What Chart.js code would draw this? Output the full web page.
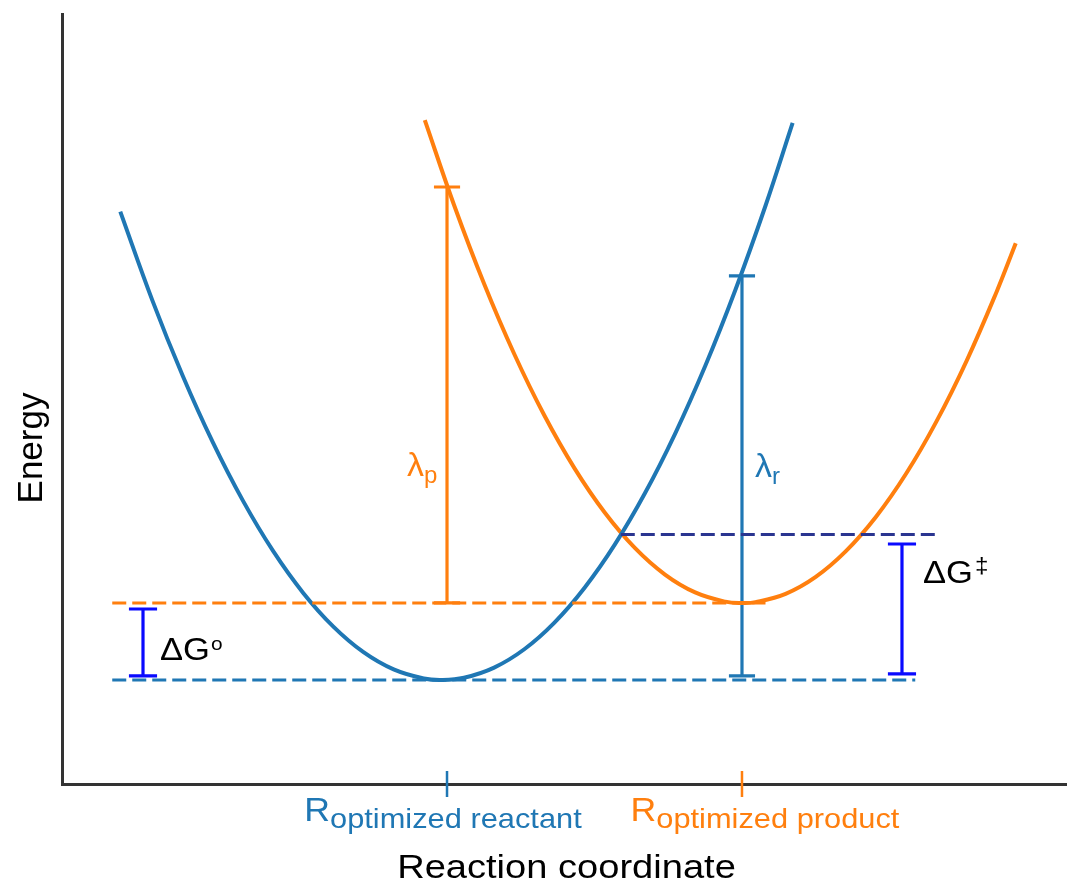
<!DOCTYPE html>
<html><head><meta charset="utf-8">
<script src="https://cdn.jsdelivr.net/npm/chart.js@4"></script>
<style>html,body{margin:0;padding:0;background:#fff;}canvas{display:block;}</style>
</head><body>
<canvas id="c" width="1067" height="881"></canvas>
<script>
// Reactant (blue) energy curve
const reactantX = [0.58, 0.9, 1.2, 1.5, 1.8, 2.1, 2.4, 2.7, 3.0, 3.3, 3.6, 3.78, 4.0, 4.3, 4.6, 4.9, 5.2, 5.5, 5.8, 6.1, 6.4, 6.7, 7.0, 7.27];
const reactantY = [7.434, 6.278, 5.305, 4.439, 3.680, 3.027, 2.482, 2.044, 1.712, 1.488, 1.370, 1.351, 1.380, 1.512, 1.750, 2.096, 2.549, 3.108, 3.775, 4.548, 5.428, 6.416, 7.510, 8.586];
// Product (orange) energy curve
const productX = [3.61, 3.9, 4.2, 4.5, 4.8, 5.1, 5.4, 5.7, 6.0, 6.3, 6.6, 6.766, 6.9, 7.2, 7.5, 7.8, 8.1, 8.4, 8.7, 9.0, 9.3, 9.49];
const productY = [8.622, 7.523, 6.496, 5.584, 4.785, 4.099, 3.526, 3.066, 2.720, 2.488, 2.368, 2.351, 2.362, 2.470, 2.690, 3.024, 3.471, 4.032, 4.706, 5.493, 6.394, 7.023];
// Horizontal reference levels
const levelNames = ['reactant minimum', 'product minimum', 'crossing'];
const levelY = [1.351, 2.351, 3.24];
const levelFrom = [0.50, 0.50, 5.56];
const levelTo = [8.49, 7.00, 8.74];
// Bracket bars
const barNames = ['λp', 'λr', 'ΔG°', 'ΔG‡'];
const barX = [3.831, 6.766, 0.806, 8.358];
const barLow = [2.351, 1.403, 1.403, 1.429];
const barHigh = [7.753, 6.60, 2.273, 3.117];
// Axis ticks
const tickPositions = [3.831, 6.766];
const tickMain = ['R', 'R'];
const tickSub = ['optimized reactant', 'optimized product'];

const BLUE = '#1f77b4', ORANGE = '#ff7f0e', NAVY = '#2a3590', PURE = '#0a0aff';
const FONT = "'Liberation Sans', Arial, Helvetica, sans-serif";

function pts(xs, ys) { return xs.map((x, i) => ({ x, y: ys[i] })); }
function level(i) { return [{ x: levelFrom[i], y: levelY[i] }, { x: levelTo[i], y: levelY[i] }]; }
function bar(i, w) {
  const x = barX[i], lo = barLow[i], hi = barHigh[i];
  return [{ x, y: lo }, { x, y: hi }, { x, y: null },
          { x: x - w, y: hi }, { x: x + w, y: hi }, { x, y: null },
          { x: x - w, y: lo }, { x: x + w, y: lo }];
}
const lineDs = (data, color, width, extra) => Object.assign({
  data, borderColor: color, backgroundColor: color, borderWidth: width,
  pointRadius: 0, showLine: true, fill: false, spanGaps: false, tension: 0
}, extra || {});

const datasets = [
  lineDs(level(0), BLUE, 3, { borderDash: [14, 6] }),
  lineDs(level(1), ORANGE, 3, { borderDash: [14, 6] }),
  lineDs(level(2), NAVY, 3, { borderDash: [14, 6] }),
  lineDs(pts(reactantX, reactantY), BLUE, 4, { tension: 0.4 }),
  lineDs(pts(productX, productY), ORANGE, 4, { tension: 0.4 }),
  lineDs(bar(0, 0.13), ORANGE, 3.2),
  lineDs(bar(1, 0.13), BLUE, 3.2),
  lineDs(bar(2, 0.14), PURE, 3.2),
  lineDs(bar(3, 0.14), PURE, 3.2),
];

function txt(ctx, s, x, y, size, color, sx) {
  ctx.save();
  ctx.font = size + 'px ' + FONT;
  ctx.fillStyle = color;
  ctx.textBaseline = 'alphabetic';
  const k = sx || 1;
  const w = ctx.measureText(s).width * k;
  ctx.translate(x, y);
  ctx.scale(k, 1);
  ctx.fillText(s, 0, 0);
  ctx.restore();
  return w;
}
function width(ctx, s, size, sx) {
  ctx.save(); ctx.font = size + 'px ' + FONT;
  const w = ctx.measureText(s).width * (sx || 1); ctx.restore(); return w;
}

const annot = {
  id: 'annot',
  afterDraw(chart) {
    const ctx = chart.ctx, xs = chart.scales.x, ca = chart.chartArea;
    const tickColors = [BLUE, ORANGE];
    const labelShift = [-4, 23];
    tickPositions.forEach((v, i) => {
      const px = xs.getPixelForValue(v);
      ctx.save();
      ctx.strokeStyle = tickColors[i]; ctx.lineWidth = 2.5;
      ctx.beginPath(); ctx.moveTo(px, ca.bottom - 13); ctx.lineTo(px, ca.bottom + 13); ctx.stroke();
      ctx.restore();
      const wm = width(ctx, tickMain[i], 33, 1.08), ws = width(ctx, tickSub[i], 28, 1.1);
      const left = px + labelShift[i] - (wm + ws) / 2;
      txt(ctx, tickMain[i], left, ca.bottom + 37, 33, tickColors[i], 1.08);
      txt(ctx, tickSub[i], left + wm, ca.bottom + 44, 28, tickColors[i], 1.1);
    });
    // axis titles
    const tw = width(ctx, 'Reaction coordinate', 34, 1.12);
    txt(ctx, 'Reaction coordinate', (ca.left + ca.right) / 2 + 2 - tw / 2, ca.bottom + 94, 34, '#000', 1.12);
    ctx.save();
    ctx.translate(ca.left - 20, (ca.top + ca.bottom) / 2 + 49);
    ctx.rotate(-Math.PI / 2);
    ctx.font = '35px ' + FONT; ctx.fillStyle = '#000'; ctx.textAlign = 'center';
    ctx.fillText('Energy', 0, 0);
    ctx.restore();
    // bracket labels
    const bx = i => xs.getPixelForValue(barX[i]);
    const lp = txt(ctx, 'λ', bx(0) - 40, 476, 34, ORANGE, 1.0);
    txt(ctx, 'p', bx(0) - 40 + lp, 483, 24, ORANGE, 1.0);
    const lr = txt(ctx, 'λ', bx(1) + 13, 477, 34, BLUE, 1.0);
    txt(ctx, 'r', bx(1) + 13 + lr, 484, 24, BLUE, 1.0);
    const g0 = txt(ctx, 'ΔG', bx(2) + 17, 660, 32, '#000', 1.08);
    txt(ctx, 'o', bx(2) + 17 + g0 + 1, 650, 19, '#000', 1.1);
    const g1 = txt(ctx, 'ΔG', bx(3) + 21, 583, 32, '#000', 1.08);
    txt(ctx, '‡', bx(3) + 21 + g1 + 2, 573, 22, '#000', 1.1);
  }
};

new Chart(document.getElementById('c'), {
  type: 'scatter',
  data: { datasets },
  options: {
    responsive: false, animation: false, devicePixelRatio: 1,
    layout: { padding: { left: 62, top: 14, right: 0, bottom: 97 } },
    plugins: { legend: { display: false }, tooltip: { enabled: false } },
    scales: {
      x: { type: 'linear', min: 0, max: 10, grid: { display: false }, ticks: { display: false },
           border: { display: true, color: '#333', width: 3 }, afterFit(s) { s.height = 0; } },
      y: { type: 'linear', min: 0, max: 10, grid: { display: false }, ticks: { display: false },
           border: { display: true, color: '#333', width: 3 }, afterFit(s) { s.width = 0; } }
    }
  },
  plugins: [annot]
});
</script>
</body></html>
